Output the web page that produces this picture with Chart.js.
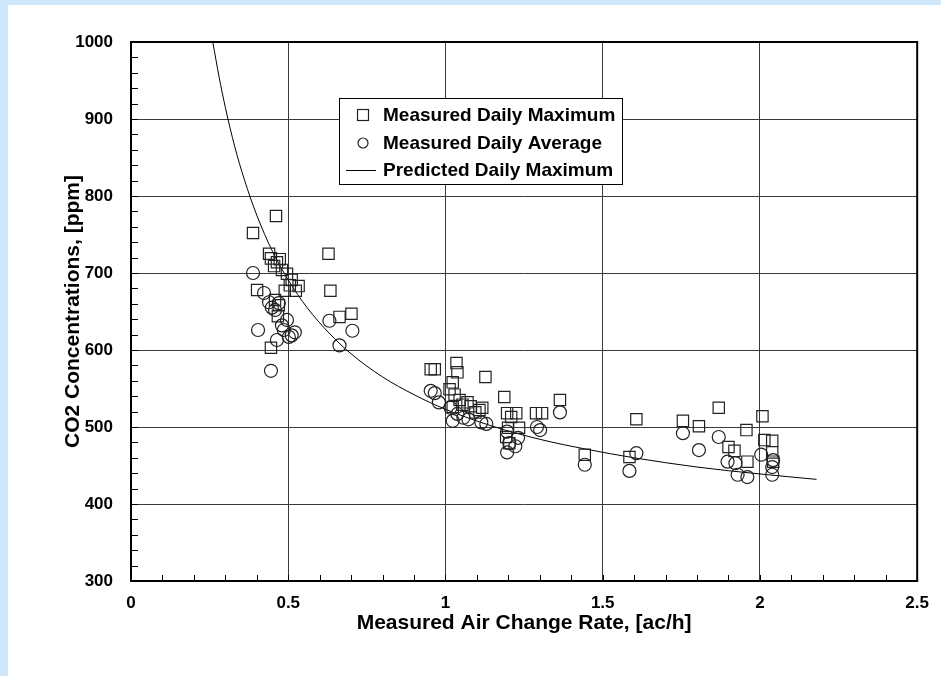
<!DOCTYPE html>
<html>
<head>
<meta charset="utf-8">
<script src="https://cdn.jsdelivr.net/npm/chart.js@4.4.0/dist/chart.umd.min.js"></script>
<style>
  html, body { margin: 0; padding: 0; background: #cfe7fb; }
  #wrap { position: absolute; left: 8px; top: 5px; width: 933px; height: 671px; background: #fff; }
</style>
</head>
<body>
<div id="wrap"><canvas id="co2Chart" width="933" height="671"></canvas></div>
<script>
// ---- Data ----
const maxX = [0.388, 0.401, 0.461, 0.439, 0.445, 0.455, 0.464, 0.473, 0.480, 0.496, 0.505, 0.489, 0.511, 0.524, 0.533,
              0.628, 0.634, 0.663, 0.701, 0.445, 0.467, 0.458, 0.470,
              0.953, 0.966, 1.035, 1.038, 1.023, 1.013, 1.029, 1.045, 1.054, 1.070, 1.080, 1.095, 1.108, 1.127, 1.117, 1.023,
              1.187, 1.196, 1.209, 1.225, 1.234, 1.199, 1.193, 1.203, 1.288, 1.307, 1.364,
              1.443, 1.585, 1.607, 1.755, 1.806, 1.869, 1.900, 1.919, 1.957, 1.960, 2.008, 2.014, 2.039, 2.039, 2.042];
const maxY = [752, 678, 774, 725, 719, 709, 714, 718, 704, 699, 684, 677, 691, 677, 683,
              725, 677, 643, 647, 603, 644, 665, 658,
              575, 575, 583, 571, 558, 549, 542, 535, 529, 532, 527, 519, 522, 565, 525, 526,
              539, 518, 513, 518, 499, 499, 487, 479, 518, 518, 535,
              464, 461, 510, 508, 501, 525, 474, 469, 496, 455, 514, 483, 482, 467, 455];

const avgX = [0.388, 0.404, 0.445, 0.423, 0.439, 0.448, 0.458, 0.470, 0.480, 0.486, 0.496, 0.502, 0.511, 0.521, 0.464,
              0.631, 0.663, 0.704,
              0.953, 0.966, 0.979, 1.016, 1.023, 1.038, 1.057, 1.073, 1.114, 1.130,
              1.196, 1.203, 1.196, 1.222, 1.231, 1.291, 1.301, 1.364,
              1.443, 1.585, 1.607, 1.755, 1.806, 1.869, 1.897, 1.929, 1.922, 1.960, 2.004, 2.039, 2.039, 2.042];
const avgY = [700, 626, 573, 674, 662, 655, 652, 661, 632, 626, 639, 617, 619, 623, 613,
              638, 606, 625,
              547, 544, 532, 525, 508, 517, 512, 510, 506, 504,
              494, 479, 467, 475, 486, 500, 496, 519,
              451, 443, 466, 492, 470, 487, 455, 438, 453, 435, 464, 448, 438, 457];

const predX = [0.26, 0.28, 0.30, 0.33, 0.36, 0.40, 0.45, 0.50, 0.56, 0.63, 0.70, 0.80, 0.90, 1.00,
               1.15, 1.30, 1.45, 1.60, 1.80, 2.00, 2.18];
const predY = [1000, 955, 915, 864, 822, 775, 728, 691, 655, 622, 595, 565, 542, 523,
               501, 484, 471, 460, 448, 439, 432];

const xTicks = [0, 0.5, 1, 1.5, 2, 2.5];
const yTicks = [300, 400, 500, 600, 700, 800, 900, 1000];
const xMinorStep = 0.1;
const yMinorStep = 20;

const legendLabels = ['Measured Daily Maximum', 'Measured Daily Average', 'Predicted Daily Maximum'];

// ---- Shared styles ----
const FONT = "'Liberation Sans', Arial, sans-serif";
const ink = '#000';
const gridCol = '#3a3a3a';
const pts = (xs, ys) => xs.map((x, i) => ({ x, y: ys[i] }));

// ---- Minor ticks, frame and boxed legend ----
const decorPlugin = {
  id: 'decor',
  afterDatasetsDraw(chart) {
    const { ctx, chartArea: a, scales: { x, y } } = chart;
    ctx.save();
    ctx.strokeStyle = ink;
    ctx.lineWidth = 1;
    ctx.beginPath();
    for (let v = xMinorStep; v < 2.5 - 1e-6; v += xMinorStep) {
      const px = Math.round(x.getPixelForValue(v)) + 0.5;
      ctx.moveTo(px, a.bottom); ctx.lineTo(px, a.bottom - 6);
    }
    for (let v = 300 + yMinorStep; v < 1000 - 1e-6; v += yMinorStep) {
      const py = Math.round(y.getPixelForValue(v)) + 0.5;
      ctx.moveTo(a.left, py); ctx.lineTo(a.left + 7, py);
    }
    ctx.stroke();

    // frame
    ctx.lineWidth = 2;
    ctx.strokeRect(a.left, a.top, a.right - a.left, a.bottom - a.top);

    // legend box
    const bx = 331, by = 93, bw = 283, bh = 86;
    ctx.fillStyle = '#fff';
    ctx.fillRect(bx, by, bw, bh);
    ctx.lineWidth = 1;
    ctx.strokeRect(bx + 0.5, by + 0.5, bw, bh);
    const rows = [110, 138, 165];
    const sx = 355;
    ctx.strokeStyle = '#222';
    ctx.lineWidth = 1.2;
    ctx.strokeRect(sx - 5.5, rows[0] - 5.5, 11, 11);
    ctx.beginPath(); ctx.arc(sx, rows[1], 5, 0, Math.PI * 2); ctx.stroke();
    ctx.strokeStyle = ink;
    ctx.lineWidth = 1;
    ctx.beginPath(); ctx.moveTo(338, rows[2] + 0.5); ctx.lineTo(368, rows[2] + 0.5); ctx.stroke();
    ctx.fillStyle = ink;
    ctx.font = 'bold 19px ' + FONT;
    ctx.textBaseline = 'middle';
    ctx.textAlign = 'left';
    legendLabels.forEach((t, i) => ctx.fillText(t, 375, rows[i] + 1));
    ctx.restore();
  }
};

new Chart(document.getElementById('co2Chart'), {
  type: 'scatter',
  data: {
    datasets: [
      { label: legendLabels[0], data: pts(maxX, maxY), pointStyle: 'rect', pointRadius: 8, pointHoverRadius: 8,
        borderColor: '#222', borderWidth: 1.2, backgroundColor: 'rgba(0,0,0,0)' },
      { label: legendLabels[1], data: pts(avgX, avgY), pointStyle: 'circle', pointRadius: 6.5, pointHoverRadius: 6.5,
        borderColor: '#222', borderWidth: 1.2, backgroundColor: 'rgba(0,0,0,0)' },
      { label: legendLabels[2], type: 'line', data: pts(predX, predY), showLine: true, pointRadius: 0,
        borderColor: ink, borderWidth: 1, fill: false, cubicInterpolationMode: 'monotone' }
    ]
  },
  options: {
    responsive: false, animation: false, devicePixelRatio: 1,
    layout: { padding: { top: 37, right: 20, left: 0, bottom: 0 } },
    plugins: { legend: { display: false }, tooltip: { enabled: false } },
    scales: {
      x: {
        type: 'linear', min: 0, max: 2.5,
        afterBuildTicks: s => { s.ticks = xTicks.map(v => ({ value: v })); },
        afterFit: s => { s.height = 95; },
        ticks: { color: ink, padding: 12, font: { family: FONT, size: 17, weight: 'bold' }, callback: v => String(v) },
        grid: { color: gridCol, lineWidth: 1, drawTicks: false },
        border: { color: ink, width: 2 },
        title: { display: true, text: 'Measured Air Change Rate, [ac/h]', color: ink,
                 font: { family: FONT, size: 21, weight: 'bold' }, padding: { top: 0, bottom: 40 } }
      },
      y: {
        type: 'linear', min: 300, max: 1000,
        afterBuildTicks: s => { s.ticks = yTicks.map(v => ({ value: v })); },
        afterFit: s => { s.width = 123; },
        ticks: { color: ink, padding: 18, font: { family: FONT, size: 17, weight: 'bold' }, callback: v => String(v) },
        grid: { color: gridCol, lineWidth: 1, drawTicks: false },
        border: { color: ink, width: 2 },
        title: { display: true, text: 'CO2 Concentrations, [ppm]', color: ink,
                 font: { family: FONT, size: 21, weight: 'bold' }, padding: { top: 53, bottom: 0 } }
      }
    }
  },
  plugins: [decorPlugin]
});
</script>
</body>
</html>
